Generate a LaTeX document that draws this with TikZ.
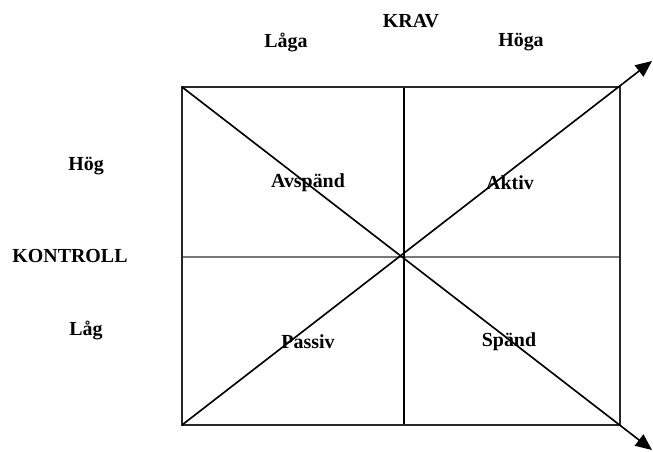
\documentclass[tikz,border=0pt]{standalone}
\usepackage{fontspec}
\setmainfont{Liberation Serif}
\usetikzlibrary{arrows.meta}
\definecolor{framegray}{RGB}{40, 40, 40}
\definecolor{midgray}{RGB}{120, 120, 120}
\tikzset{
    lbl/.style={font=\fontsize{17}{19}\selectfont\bfseries, inner sep=0pt, text=black},
    frame/.style={line width=1.7pt, draw=framegray},
    midline/.style={line width=1.3pt, draw=midgray},
    vline/.style={line width=1.8pt, draw=black},
    diag/.style={line width=1.4pt, draw=black, -{Triangle[length=14pt, width=12pt]}}
}
\begin{document}
\begin{tikzpicture}[x=0.03cm, y=-0.03cm]
    \useasboundingbox (0,0) rectangle (653,451);

    % corners of the matrix
    \coordinate (tl) at (182,87);
    \coordinate (tr) at (620,87);
    \coordinate (bl) at (182,425);
    \coordinate (br) at (620,425);
    \coordinate (tm) at (404,87);
    \coordinate (bm) at (404,425);
    \coordinate (ml) at (182,257);
    \coordinate (mr) at (620,257);
    \coordinate (uptip) at (652,61);
    \coordinate (downtip) at (652,450);

    % grid
    \draw[midline] (ml) -- (mr);
    \draw[vline] (tm) -- (bm);
    \draw[frame] (tl) rectangle (br);

    % diagonals
    \draw[diag] (bl) -- (uptip);
    \draw[diag] (tl) -- (downtip);

    % axis labels
    \node[lbl] (krav) at (411,21) {KRAV};
    \node[lbl] (laga) at (286,42) {Låga};
    \node[lbl] (hoga) at (521,42) {Höga};
    \node[lbl] (hog) at (86,166) {Hög};
    \node[lbl] (kontroll) at (70,256) {KONTROLL};
    \node[lbl] (lag) at (86,330) {Låg};

    % quadrant labels
    \node[lbl] (avspand) at (308,183) {Avspänd};
    \node[lbl] (aktiv) at (510,183) {Aktiv};
    \node[lbl] (passiv) at (308,342) {Passiv};
    \node[lbl] (spand) at (509,342) {Spänd};
\end{tikzpicture}
\end{document}
